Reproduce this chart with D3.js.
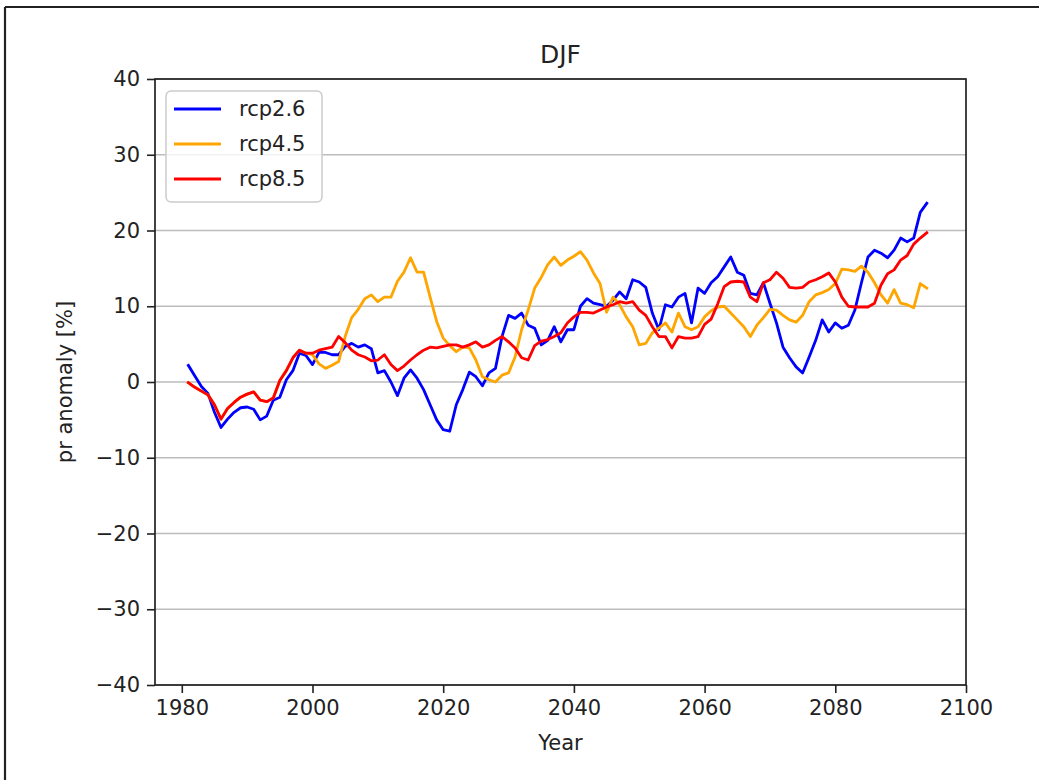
<!DOCTYPE html>
<html>
<head>
<meta charset="utf-8">
<script src="https://cdn.jsdelivr.net/npm/d3@7"></script>
<style>
  html, body { margin: 0; padding: 0; background: #ffffff; }
  svg { display: block; }
  text { font-family: "DejaVu Sans", sans-serif; }
</style>
</head>
<body>
<svg id="chart" width="1039" height="780"></svg>
<script>
// ---------------- data ----------------
const title = "DJF";
const xLabel = "Year";
const yLabel = "pr anomaly [%]";
const seriesNames = ["rcp2.6", "rcp4.5", "rcp8.5"];
const seriesColors = ["#0000ff", "#ffa500", "#ff0000"];
const startYear = 1981;
const xTicks = [1980, 2000, 2020, 2040, 2060, 2080, 2100];
const yTicks = [-40, -30, -20, -10, 0, 10, 20, 30, 40];

const rcp26 = [
  2.2, 0.8, -0.6, -1.5, -4.0, -6.0, -4.9, -4.0, -3.4, -3.3,
  -3.6, -5.0, -4.5, -2.4, -2.0, 0.3, 1.5, 3.8, 3.5, 2.3,
  3.9, 3.9, 3.6, 3.6, 4.7, 5.1, 4.6, 4.9, 4.4, 1.2,
  1.5, 0.0, -1.8, 0.5, 1.6, 0.5, -1.0, -3.0, -5.0, -6.3,
  -6.5, -3.0, -1.0, 1.3, 0.7, -0.5, 1.2, 1.8, 6.0, 8.8,
  8.4, 9.1, 7.5, 7.1, 4.9, 5.5, 7.3, 5.3, 6.9, 6.9,
  10.0, 11.0, 10.4, 10.2, 10.0, 10.8, 11.9, 11.0, 13.5, 13.2,
  12.5, 9.1, 6.9, 10.2, 9.9, 11.2, 11.7, 7.8, 12.4, 11.7,
  13.1, 13.9, 15.2, 16.5, 14.5, 14.1, 11.7, 11.5, 13.1, 10.4,
  7.8, 4.6, 3.2, 2.0, 1.2, 3.3, 5.5, 8.2, 6.6, 7.8,
  7.1, 7.5, 9.5, 13.1, 16.5, 17.4, 17.0, 16.4, 17.4, 19.0,
  18.5, 19.0, 22.4, 23.6
];

const rcp45 = [
  -0.1, -0.7, -1.2, -1.7, -3.0, -4.9, -3.5, -2.7, -2.0, -1.6,
  -1.3, -2.4, -2.6, -2.1, 0.2, 1.5, 3.2, 4.2, 3.8, 3.6,
  2.4, 1.8, 2.2, 2.7, 6.0, 8.5, 9.6, 11.0, 11.5, 10.6,
  11.2, 11.2, 13.3, 14.5, 16.4, 14.5, 14.5, 11.2, 8.0, 5.8,
  4.8, 4.0, 4.6, 4.5, 2.9, 0.7, 0.3, 0.0, 0.9, 1.2,
  3.3, 6.9, 9.5, 12.4, 13.8, 15.5, 16.5, 15.4, 16.1, 16.6,
  17.2, 16.1, 14.4, 13.0, 9.2, 11.2, 10.2, 8.6, 7.3, 4.9,
  5.1, 6.5, 7.1, 7.8, 6.6, 9.1, 7.3, 6.9, 7.3, 8.6,
  9.4, 9.9, 10.0, 9.1, 8.2, 7.3, 6.0, 7.5, 8.5, 9.6,
  9.5, 8.8, 8.2, 7.9, 8.8, 10.6, 11.5, 11.8, 12.2, 13.0,
  14.9, 14.8, 14.6, 15.3, 14.5, 13.1, 11.5, 10.4, 12.2, 10.4,
  10.2, 9.8, 13.0, 12.4
];

const rcp85 = [
  -0.1, -0.7, -1.2, -1.7, -3.0, -4.9, -3.5, -2.7, -2.0, -1.6,
  -1.3, -2.4, -2.6, -2.1, 0.2, 1.5, 3.2, 4.2, 3.8, 3.8,
  4.2, 4.4, 4.6, 6.0, 5.2, 4.2, 3.6, 3.3, 2.8, 2.9,
  3.6, 2.3, 1.5, 2.1, 2.9, 3.6, 4.2, 4.6, 4.5, 4.7,
  4.9, 4.9, 4.6, 4.9, 5.3, 4.6, 4.9, 5.5, 6.0, 5.3,
  4.5, 3.2, 2.9, 4.8, 5.4, 5.6, 6.0, 6.5, 7.8, 8.6,
  9.2, 9.2, 9.1, 9.5, 9.9, 10.2, 10.6, 10.4, 10.6, 9.5,
  8.8, 7.3, 6.0, 6.0, 4.5, 6.0, 5.8, 5.8, 6.0, 7.6,
  8.3, 10.3, 12.6, 13.2, 13.3, 13.2, 11.2, 10.6, 13.1, 13.5,
  14.5, 13.7, 12.5, 12.4, 12.5, 13.2, 13.5, 13.9, 14.4, 13.2,
  11.2, 10.0, 9.9, 9.9, 9.9, 10.4, 12.8, 14.3, 14.8, 16.1,
  16.7, 18.2, 19.0, 19.7
];

const seriesValues = [rcp26, rcp45, rcp85];

// ---------------- layout ----------------
const svg = d3.select("#chart");
const plot = { left: 155, right: 966, top: 79, bottom: 685 };

// outer frame of the screenshot
svg.append("line").attr("x1", 5).attr("x2", 1039).attr("y1", 7).attr("y2", 7)
  .attr("stroke", "#222").attr("stroke-width", 2.2);
svg.append("line").attr("x1", 5).attr("x2", 5).attr("y1", 7).attr("y2", 780)
  .attr("stroke", "#222").attr("stroke-width", 2.2);

const x = d3.scaleLinear().domain([1975.9, 2100]).range([plot.left, plot.right]);
const y = d3.scaleLinear().domain([-40, 40]).range([plot.bottom, plot.top]);

const fmt = d3.format("d");

// grid
svg.append("g")
  .selectAll("line")
  .data(yTicks)
  .join("line")
  .attr("x1", plot.left).attr("x2", plot.right)
  .attr("y1", d => y(d)).attr("y2", d => y(d))
  .attr("stroke", "#bdbdbd").attr("stroke-width", 1.7);

// lines
const line = d3.line()
  .x((d, i) => x(startYear + i))
  .y(d => y(d));

const lines = svg.append("g");
seriesValues.forEach((vals, k) => {
  lines.append("path")
    .datum(vals)
    .attr("d", line)
    .attr("fill", "none")
    .attr("stroke", seriesColors[k])
    .attr("stroke-width", 2.8)
    .attr("stroke-linejoin", "round")
    .attr("stroke-linecap", "square");
});

// axes
const xAxis = d3.axisBottom(x).tickValues(xTicks).tickFormat(fmt).tickSize(8).tickPadding(7);
const yAxis = d3.axisLeft(y).tickValues(yTicks).tickFormat(d3.format("d")).tickSize(8).tickPadding(7);

const gx = svg.append("g").attr("transform", `translate(0,${plot.bottom})`).call(xAxis);
const gy = svg.append("g").attr("transform", `translate(${plot.left},0)`).call(yAxis);
[gx, gy].forEach(g => {
  g.select(".domain").remove();
  g.selectAll(".tick line").attr("stroke", "#222").attr("stroke-width", 1.6);
  g.selectAll(".tick text").attr("fill", "#222").style("font-size", "21px")
    .style("font-family", "DejaVu Sans, sans-serif");
});

// spines
svg.append("rect")
  .attr("x", plot.left).attr("y", plot.top)
  .attr("width", plot.right - plot.left).attr("height", plot.bottom - plot.top)
  .attr("fill", "none").attr("stroke", "#222").attr("stroke-width", 1.7);

// title & labels
svg.append("text").attr("x", (plot.left + plot.right) / 2).attr("y", 63)
  .attr("text-anchor", "middle").style("font-size", "25px").attr("fill", "#222").text(title);
svg.append("text").attr("x", (plot.left + plot.right) / 2).attr("y", 750)
  .attr("text-anchor", "middle").style("font-size", "21px").attr("fill", "#222").text(xLabel);
svg.append("text")
  .attr("transform", `translate(72,${(plot.top + plot.bottom) / 2}) rotate(-90)`)
  .attr("text-anchor", "middle").style("font-size", "21px").attr("fill", "#222").text(yLabel);

// legend
const leg = svg.append("g").attr("transform", "translate(166,91)");
leg.append("rect").attr("width", 156).attr("height", 111).attr("rx", 5)
  .attr("fill", "rgba(255,255,255,0.8)").attr("stroke", "#cccccc").attr("stroke-width", 1.5);
seriesNames.forEach((name, k) => {
  const yy = 18 + k * 35;
  leg.append("line").attr("x1", 8).attr("x2", 55).attr("y1", yy).attr("y2", yy)
    .attr("stroke", seriesColors[k]).attr("stroke-width", 2.8);
  leg.append("text").attr("x", 73).attr("y", yy).attr("dy", "0.35em")
    .style("font-size", "21px").attr("fill", "#222").text(name);
});
</script>
</body>
</html>
